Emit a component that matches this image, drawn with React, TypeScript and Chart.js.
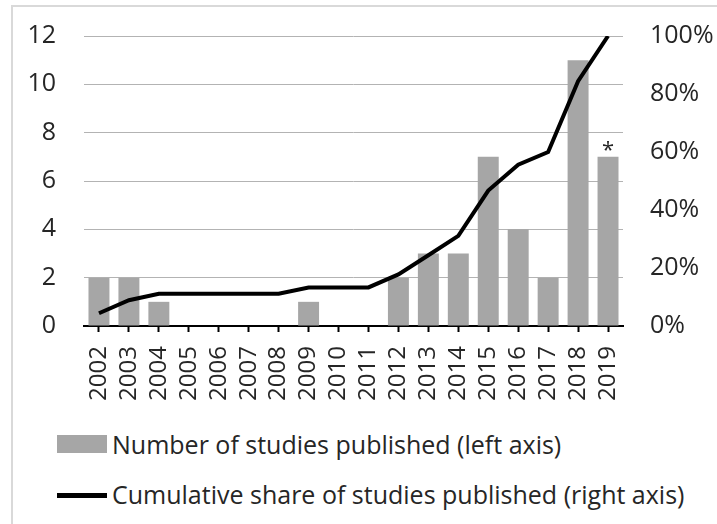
import React, { useEffect, useRef } from "react";
import { Chart, registerables } from "chart.js";

Chart.register(...registerables);

const years = ["2002","2003","2004","2005","2006","2007","2008","2009","2010","2011","2012","2013","2014","2015","2016","2017","2018","2019"];
const studies = [2, 2, 1, 0, 0, 0, 0, 1, 0, 0, 2, 3, 3, 7, 4, 2, 11, 7];
const cumulativeShare = [0.044, 0.089, 0.111, 0.111, 0.111, 0.111, 0.111, 0.133, 0.133, 0.133, 0.178, 0.244, 0.311, 0.467, 0.556, 0.6, 0.844, 1.0];
const notes = ["", "", "", "", "", "", "", "", "", "", "", "", "", "", "", "", "", "*"];
const leftTicks = [0, 2, 4, 6, 8, 10, 12];
const rightTicks = [0, 0.2, 0.4, 0.6, 0.8, 1.0];
const barLabel = "Number of studies published (left axis)";
const lineLabel = "Cumulative share of studies published (right axis)";

const FONT = "'Open Sans', sans-serif";
const TEXT = "#262626";
const BAR = "#a6a6a6";

const notePlugin = {
  id: "notes",
  afterDatasetsDraw(chart: any) {
    const meta = chart.getDatasetMeta(1);
    const ctx = chart.ctx;
    ctx.save();
    ctx.fillStyle = TEXT;
    ctx.font = `22px ${FONT}`;
    ctx.textAlign = "center";
    ctx.textBaseline = "middle";
    notes.forEach((n, i) => {
      if (!n) return;
      const el = meta.data[i];
      ctx.fillText(n, el.x, el.y - 6);
    });
    ctx.restore();
  },
};

export default function App() {
  const ref = useRef<HTMLCanvasElement>(null);
  useEffect(() => {
    const chart = new Chart(ref.current!, {
      type: "bar",
      data: {
        labels: years,
        datasets: [
          {
            type: "line",
            label: lineLabel,
            data: cumulativeShare,
            yAxisID: "y1",
            borderColor: "#000",
            backgroundColor: "#000",
            borderWidth: 4,
            pointRadius: 0,
            tension: 0,
            order: 0,
          } as any,
          {
            type: "bar",
            label: barLabel,
            data: studies,
            yAxisID: "y",
            backgroundColor: BAR,
            barPercentage: 0.7,
            categoryPercentage: 1.0,
            order: 1,
          },
        ],
      },
      options: {
        animation: false,
        responsive: false,
        maintainAspectRatio: false,
        layout: { padding: { top: 36, bottom: 0, left: 0, right: 0 } },
        plugins: { legend: { display: false }, tooltip: { enabled: false } },
        scales: {
          x: {
            offset: true,
            grid: {
              offset: false,
              drawOnChartArea: false,
              drawTicks: true,
              tickLength: 6,
              tickColor: "#000",
              tickWidth: 2,
            } as any,
            border: { display: true, color: "#000", width: 2 },
            ticks: {
              autoSkip: false,
              minRotation: 90,
              maxRotation: 90,
              padding: 14,
              color: TEXT,
              font: { family: FONT, size: 24 },
            },
            afterFit: (s: any) => { s.height = 74; s.paddingLeft = 0; s.paddingRight = 0; },
          },
          y: {
            position: "left",
            min: 0,
            max: 12,
            afterBuildTicks: (s: any) => { s.ticks = leftTicks.map((v) => ({ value: v })); },
            grid: { color: "#b3b3b3", lineWidth: 1, drawTicks: false },
            border: { display: false },
            ticks: { padding: 28, color: TEXT, font: { family: FONT, size: 25 } },
            afterFit: (s: any) => { s.width = 84; s.paddingTop = 0; s.paddingBottom = 0; },
          },
          y1: {
            position: "right",
            min: 0,
            max: 1,
            afterBuildTicks: (s: any) => { s.ticks = rightTicks.map((v) => ({ value: v })); },
            grid: { drawOnChartArea: false, drawTicks: false },
            border: { display: false },
            ticks: {
              padding: 27,
              color: TEXT,
              font: { family: FONT, size: 25 },
              callback: (v: any) => Math.round(Number(v) * 100) + "%",
            },
            afterFit: (s: any) => { s.width = 94; s.paddingTop = 0; s.paddingBottom = 0; },
          },
        },
      },
      plugins: [notePlugin],
    });
    return () => chart.destroy();
  }, []);

  const textStyle: React.CSSProperties = {
    position: "absolute",
    left: 112,
    fontFamily: FONT,
    fontSize: 25,
    color: TEXT,
    lineHeight: "30px",
    whiteSpace: "nowrap",
  };

  return (
    <div style={{ position: "fixed", left: 0, top: 0, width: 717, height: 524, overflow: "hidden", background: "#fff" }}>
      <div style={{ position: "absolute", left: 11, top: 5, width: 800, height: 700, border: "2px solid #d9d9d9" }} />
      <canvas ref={ref} width={717} height={400} style={{ position: "absolute", left: 0, top: 0, width: 717, height: 400 }} />
      <div style={{ position: "absolute", left: 57, top: 435, width: 50, height: 18, background: BAR }} />
      <div style={{ ...textStyle, top: 429 }}>{barLabel}</div>
      <div style={{ position: "absolute", left: 57, top: 493, width: 50, height: 5, background: "#000" }} />
      <div style={{ ...textStyle, top: 479 }}>{lineLabel}</div>
    </div>
  );
}
